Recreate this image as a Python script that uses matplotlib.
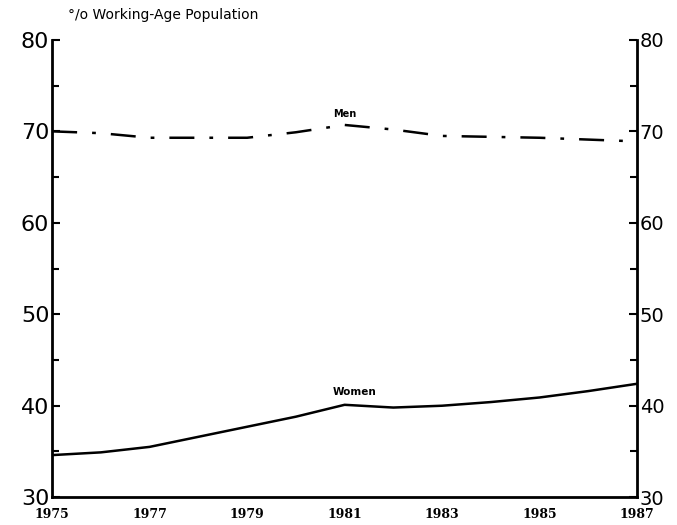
import matplotlib
matplotlib.use("Agg")
import matplotlib.pyplot as plt
import matplotlib.ticker as ticker

# ── DATI ────────────────────────────────────────────────────
years = [1975, 1976, 1977, 1978, 1979, 1980, 1981, 1982, 1983, 1984, 1985, 1986, 1987]
men = [70.0, 69.8, 69.3, 69.3, 69.3, 69.9, 70.7, 70.2, 69.5, 69.4, 69.3, 69.1, 68.9]
women = [34.6, 34.9, 35.5, 36.6, 37.7, 38.8, 40.1, 39.8, 40.0, 40.4, 40.9, 41.6, 42.4]
year_ticks = [1975, 1977, 1979, 1981, 1983, 1985, 1987]
y_ticks = [30, 40, 50, 60, 70, 80]
# ────────────────────────────────────────────────────────────

fig = plt.figure(figsize=(6.77, 5.25), dpi=100)
ax = fig.add_axes([0.077, 0.053, 0.864, 0.871])

ax.plot(years, men, color="black", lw=1.8, dashes=(10, 6, 1.5, 6))
ax.plot(years, women, color="black", lw=1.8)

ax.set_xlim(1975, 1987)
ax.set_ylim(30, 80)

for side in ("left", "right", "bottom"):
    ax.spines[side].set_linewidth(2)
ax.spines["top"].set_visible(False)

ax.set_yticks(y_ticks)
ax.yaxis.set_minor_locator(ticker.MultipleLocator(5))
ax.tick_params(axis="y", which="both", direction="in", left=True, right=True,
               labelleft=True, labelright=True, width=1.5, pad=2)
ax.tick_params(axis="y", which="major", length=6)
ax.tick_params(axis="y", which="minor", length=5)
for lab in ax.get_yticklabels():
    lab.set_fontsize(16)
for lab in ax.yaxis.get_ticklabels(which="major"):
    pass
# etichette a destra un po' più piccole
for t in ax.yaxis.get_major_ticks():
    t.label1.set_fontsize(16)
    t.label2.set_fontsize(14)
    t.label1.set_verticalalignment("center_baseline")
    t.label2.set_verticalalignment("center_baseline")

ax.set_xticks(year_ticks)
ax.set_xticklabels([str(y) for y in year_ticks], fontsize=9, fontweight="bold",
                   family="DejaVu Serif")
ax.tick_params(axis="x", length=0, pad=8)

ax.text(1981, 71.3, "Men", ha="center", va="bottom", fontsize=7, fontweight="bold")
ax.text(1981.2, 40.9, "Women", ha="center", va="bottom", fontsize=7.5, fontweight="bold")

fig.text(0.1, 0.972, "°/o Working-Age Population", ha="left", va="center", fontsize=10)

fig.savefig("out.png", dpi=100)
